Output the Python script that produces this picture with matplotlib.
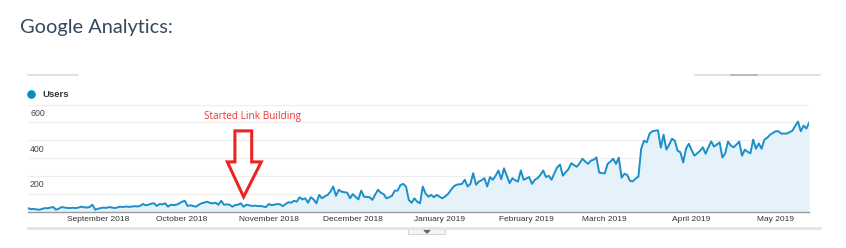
import pandas as pd
import matplotlib
matplotlib.use("Agg")
import matplotlib.pyplot as plt
import matplotlib.dates as mdates
from matplotlib.patches import Polygon, Rectangle, Circle

# daily users (Aug 7 2018 .. May 13 2019)
users = [
    19, 13, 15, 12, 10, 14, 19, 18, 22, 25, 10, 16, 25, 22, 20, 19, 21, 19, 22, 27,
    24, 22, 25, 38, 10, 16, 19, 22, 20, 25, 22, 19, 23, 27, 25, 28, 26, 27, 30, 28,
    31, 42, 35, 38, 44, 46, 31, 42, 40, 46, 27, 38, 36, 38, 45, 55, 60, 31, 35, 31,
    27, 38, 46, 50, 55, 48, 46, 49, 38, 60, 38, 40, 38, 27, 36, 38, 46, 27, 38, 35,
    31, 33, 30, 31, 28, 25, 42, 36, 38, 42, 40, 30, 42, 52, 49, 60, 55, 80, 68, 74,
    49, 80, 68, 46, 93, 74, 85, 93, 111, 140, 88, 122, 111, 108, 106, 74, 98, 82, 68, 117,
    83, 82, 80, 65, 95, 122, 105, 98, 74, 80, 88, 117, 117, 148, 155, 140, 65, 49, 74, 55,
    46, 140, 100, 83, 93, 80, 93, 83, 74, 85, 98, 120, 140, 150, 152, 155, 178, 140, 155, 215,
    150, 168, 175, 187, 140, 193, 178, 200, 230, 181, 242, 200, 159, 187, 175, 168, 230, 178, 185, 193,
    155, 178, 187, 205, 230, 193, 200, 178, 215, 248, 263, 201, 220, 237, 270, 260, 251, 270, 296, 280,
    267, 285, 290, 303, 219, 215, 214, 267, 280, 296, 267, 302, 189, 212, 205, 172, 169, 185, 195, 352,
    397, 388, 437, 450, 453, 455, 358, 431, 347, 375, 408, 397, 341, 332, 275, 352, 380, 345, 313, 326,
    340, 360, 324, 360, 393, 364, 375, 388, 303, 326, 392, 370, 360, 375, 392, 313, 347, 335, 326, 403,
    352, 382, 352, 403, 414, 430, 440, 450, 450, 437, 437, 437, 445, 453, 480, 504, 450, 482, 465, 500,
]
start_date = "2018-08-07"
y_labels = [600, 400, 200]
grid_values = [0, 100, 200, 300, 400, 500, 600]
month_starts = ["2018-09-01", "2018-10-01", "2018-11-01", "2018-12-01", "2019-01-01",
                "2019-02-01", "2019-03-01", "2019-04-01", "2019-05-01"]
note_text = "Started Link Building"
note_date = "2018-10-23"

dates = pd.date_range(start_date, periods=len(users), freq="D")

W, H = 846, 248
fig = plt.figure(figsize=(W / 100, H / 100), dpi=100)
fig.patch.set_facecolor("white")

# overlay in pixel space for page decorations
deco = fig.add_axes([0, 0, 1, 1])
deco.set_xlim(0, W)
deco.set_ylim(H, 0)
deco.axis("off")

deco.text(20, 28, "Google Analytics:", fontsize=14.4, family="Lato", color="#34495e", va="center")
deco.plot([28, 78], [75, 75], color="#dddddd", lw=1.2)
deco.plot([695, 820], [75, 75], color="#dddddd", lw=1.2)
deco.plot([731, 757], [75, 75], color="#b5b5b5", lw=1.2)
deco.add_patch(Circle((31.5, 94.5), 3.6, color="#058dc7"))
deco.text(42, 94.5, "Users", fontsize=6.8, family="Liberation Sans", weight="bold", color="#333333", va="center")
deco.plot([28, 820], [228, 228], color="#e3e3e3", lw=2)
deco.add_patch(Rectangle((408, 228), 37, 6, facecolor="#f4f4f4", edgecolor="#d5d5d5", lw=0.8))
deco.add_patch(Polygon([[424, 230], [430, 230], [427, 233]], closed=True, color="#666666"))

# chart area
ax_left, ax_right = 28, 809.2
y0, y600 = 211.5, 104.5
ax = fig.add_axes([ax_left / W, (H - y0) / H, (ax_right - ax_left) / W, (y0 - y600) / H])
ax.set_facecolor("none")
ax.fill_between(dates, users, 0, color="#e6f2f9", lw=0)
ax.plot(dates, users, color="#1b8fc9", lw=1.4, solid_joinstyle="round")
ax.set_xlim(dates[0], dates[-1])
ax.set_ylim(0, 600)

ax.set_yticks(grid_values)
ax.yaxis.grid(True, color="#eeeeee", lw=0.8)
ax.set_axisbelow(True)
ax.tick_params(axis="y", length=0, labelleft=False)
for v in y_labels:
    ax.annotate(str(v), xy=(0, v), xycoords=ax.get_yaxis_transform(), xytext=(1.5, -6.5),
                textcoords="offset points", fontsize=6.3, family="Liberation Sans",
                color="#444444", va="center")

ticks = pd.to_datetime(month_starts)
ax.set_xticks(ticks)
ax.set_xticklabels([t.strftime("%B %Y") for t in ticks], fontsize=6.0,
                   family="Liberation Sans", color="#333333")
ax.tick_params(axis="x", length=0, pad=3.5)
for s in ["top", "left", "right"]:
    ax.spines[s].set_visible(False)
ax.spines["bottom"].set_color("#9a9a9a")
ax.spines["bottom"].set_linewidth(1.0)

# annotation arrow (hollow red)
tip = mdates.date2num(pd.Timestamp(note_date))
arrow = [[tip - 3.1, 452], [tip + 2.9, 452], [tip + 2.9, 278], [tip + 6.3, 278],
         [tip, 82], [tip - 5.8, 278], [tip - 3.1, 278]]
ax.add_patch(Polygon(arrow, closed=True, fill=False, edgecolor="#ee2222", lw=2.2, joinstyle="miter"))
ax.text(tip + 3.2, 535, note_text, fontsize=7.2, family="Open Sans", color="#ee3333",
        ha="center", va="center")

fig.savefig("out.png", dpi=100)
